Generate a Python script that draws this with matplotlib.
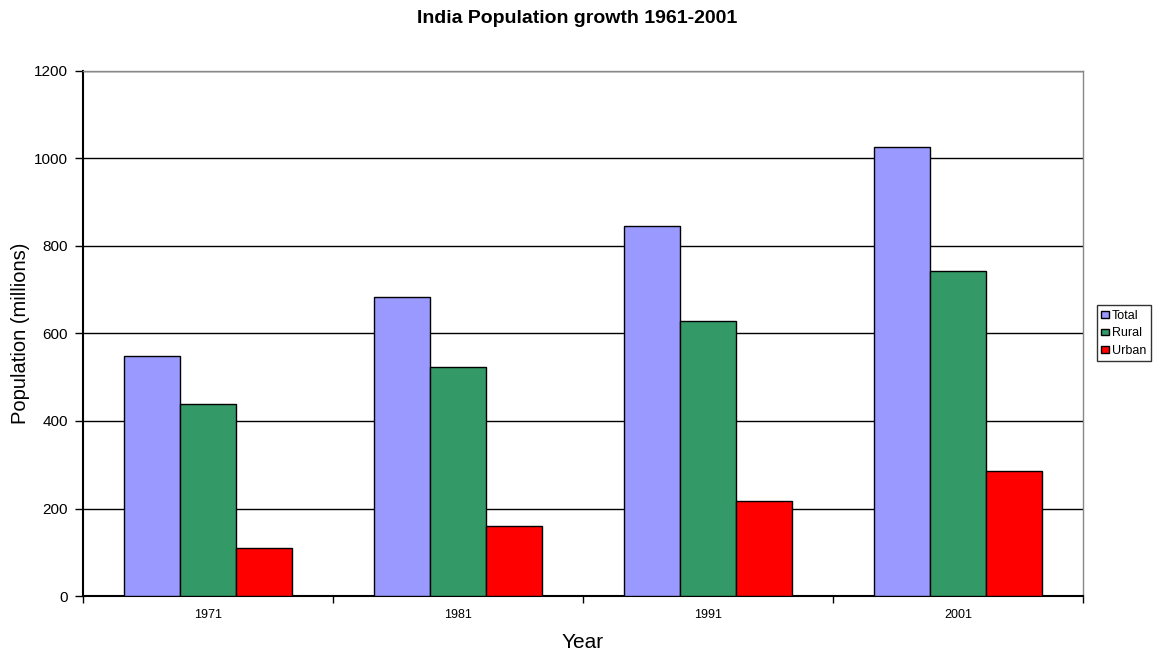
import matplotlib
matplotlib.use('Agg')
import matplotlib.pyplot as plt
import numpy as np

plt.rcParams['font.family'] = ['Liberation Sans', 'DejaVu Sans']

years = ['1971', '1981', '1991', '2001']
series_names = ['Total', 'Rural', 'Urban']
total = [548, 683, 846, 1027]
rural = [439, 524, 629, 743]
urban = [109, 159, 217, 286]
colors = ['#9999ff', '#339966', '#ff0000']

fig = plt.figure(figsize=(11.55, 6.57), dpi=100)
ax = fig.add_axes([83/1155, 1-596/657, 1000/1155, 525/657])

x = np.arange(len(years))
w = 0.224
for i, (vals, name) in enumerate(zip([total, rural, urban], series_names)):
    ax.bar(x + (i-1)*w, vals, w, color=colors[i], edgecolor='black', linewidth=1, label=name, zorder=3)

ax.set_xlim(-0.5, len(years)-0.5)
ax.set_ylim(0, 1200)
ax.set_yticks(range(0, 1201, 200))
ax.yaxis.grid(True, color='black', linewidth=1, zorder=0)
ax.tick_params(axis='y', direction='out', length=6, width=1, labelsize=11, pad=5)

ax.set_xticks(x)
ax.set_xticklabels(years, fontsize=9)
ax.tick_params(axis='x', which='major', length=0, pad=9)
ax.set_xticks(np.arange(-0.5, len(years)), minor=True)
ax.tick_params(axis='x', which='minor', direction='out', length=5, width=1)

for s in ['left', 'bottom']:
    ax.spines[s].set_color('black')
    ax.spines[s].set_linewidth(1.5)
for s in ['top', 'right']:
    ax.spines[s].set_color('#888888')
    ax.spines[s].set_linewidth(1)

ax.set_xlabel('Year', fontsize=15, labelpad=9)
ax.set_ylabel('Population (millions)', fontsize=14.5, labelpad=3)
fig.suptitle('India Population growth 1961-2001', fontsize=14, fontweight='bold', y=0.985)

leg = ax.legend(loc='center left', bbox_to_anchor=(1.014, 0.5), fontsize=9, frameon=True,
                fancybox=False, edgecolor='black', handlelength=0.6, handleheight=0.45,
                handletextpad=0.25, borderpad=0.35, labelspacing=0.45, borderaxespad=0)
leg.get_frame().set_linewidth(1)

plt.savefig('out.png', dpi=100)
